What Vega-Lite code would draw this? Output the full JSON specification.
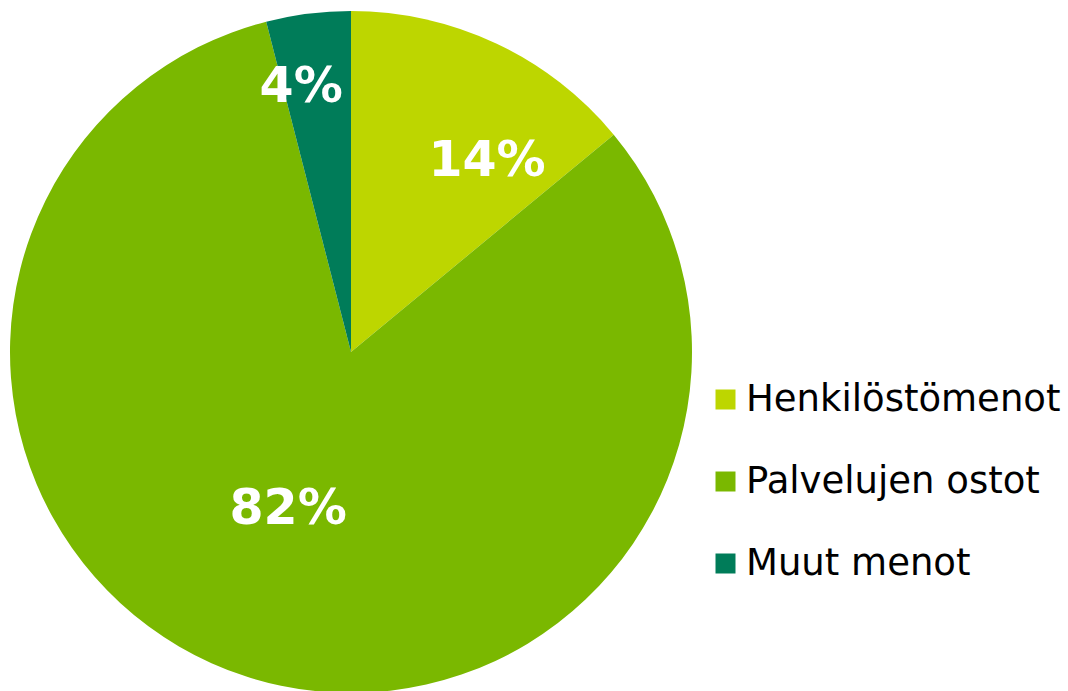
{
  "$schema": "https://vega.github.io/schema/vega-lite/v6.json",
  "width": 702,
  "height": 704,
  "padding": 0,
  "autosize": {"type": "pad"},
  "background": "white",
  "data": {"values": [
    {"kategoria": "Henkilöstömenot", "osuus": 14, "jarjestys": 1, "teksti": "14%"},
    {"kategoria": "Palvelujen ostot", "osuus": 82, "jarjestys": 2, "teksti": "82%"},
    {"kategoria": "Muut menot", "osuus": 4, "jarjestys": 3, "teksti": "4%"}
  ]},
  "encoding": {
    "theta": {"field": "osuus", "type": "quantitative", "stack": true},
    "order": {"field": "jarjestys", "type": "quantitative"}
  },
  "layer": [
    {
      "mark": {"type": "arc", "radius": 341, "stroke": null},
      "encoding": {
        "color": {
          "field": "kategoria", "type": "nominal",
          "scale": {"domain": ["Henkilöstömenot", "Palvelujen ostot", "Muut menot"], "range": ["#BDD600", "#7AB800", "#007C59"]},
          "legend": {
            "title": null, "orient": "none", "legendX": 707, "legendY": 381,
            "symbolType": "square", "symbolSize": 400, "symbolStrokeWidth": 0,
            "labelFont": "DejaVu Sans", "labelFontSize": 37, "labelColor": "#000000",
            "labelOffset": 2, "rowPadding": 44, "padding": 0, "labelLimit": 400
          }
        }
      }
    },
    {
      "mark": {"type": "text", "radius": 235, "dx": 36, "dy": 22, "font": "DejaVu Sans", "fontWeight": "bold", "fontSize": 49, "color": "white", "baseline": "middle", "align": "center"},
      "encoding": {"text": {"condition": {"test": "datum.kategoria === 'Henkilöstömenot'", "field": "teksti"}, "value": ""}}
    },
    {
      "mark": {"type": "text", "radius": 168, "dx": -11, "dy": -3, "font": "DejaVu Sans", "fontWeight": "bold", "fontSize": 49, "color": "white", "baseline": "middle", "align": "center"},
      "encoding": {"text": {"condition": {"test": "datum.kategoria === 'Palvelujen ostot'", "field": "teksti"}, "value": ""}}
    },
    {
      "mark": {"type": "text", "radius": 270, "dx": -16, "dy": 3, "font": "DejaVu Sans", "fontWeight": "bold", "fontSize": 49, "color": "white", "baseline": "middle", "align": "center"},
      "encoding": {"text": {"condition": {"test": "datum.kategoria === 'Muut menot'", "field": "teksti"}, "value": ""}}
    }
  ]
}
